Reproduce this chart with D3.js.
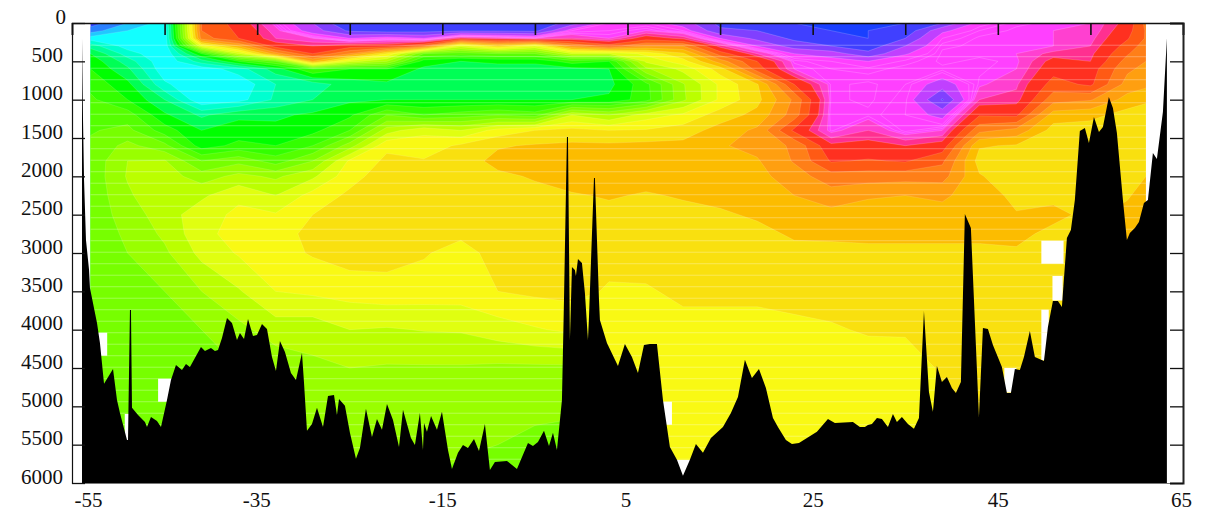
<!DOCTYPE html>
<html><head><meta charset="utf-8">
<script src="https://cdn.jsdelivr.net/npm/d3@7"></script>
<style>
html,body{margin:0;padding:0;background:#fff;overflow:hidden}
svg{display:block}
text{font-family:"Liberation Serif","Times New Roman",serif;font-size:21px;fill:#111}
</style></head><body><svg id="c" width="1207" height="515"></svg>
<script>
const lons=[-53,-49,-45,-41,-37,-33,-29,-25,-21,-17,-13,-9,-5,-1,3,7,11,15,19,23,27,31,35,39,43,47,51,55,59,61];
const depths=[0,100,200,300,400,500,600,800,1000,1200,1400,1600,1800,2000,2250,2500,2750,3000,3500,4000,4500,5000,5500,6000];
// one row per longitude, one value per depth
const field=[
[0.5,1.5,3.5,5.5,7,7.7,8,8.7,9.2,9.5,9.9,10.2,10.3,10.3,10.3,10.3,10.3,10.3,10.3,10.3,10.3,10.3,10.3,10.3],
[2,3,3.3,3.5,4.5,5.5,6.2,7.3,8,9.5,10.3,11.3,12,12.1,11.8,11.5,11.2,11,10.5,10.2,10.1,10.1,10.1,10.1],
[3.5,3.3,3.2,3.2,3.1,3.2,3.3,4.2,6,7.2,8.5,10.3,12.1,12.5,13,12.5,12.2,11.8,11,10.4,10.2,10.2,10.2,10.2],
[19,19,18.5,14,8,5.5,3.4,3,3.1,5.8,7,7.5,10,11.5,12.8,13.6,13.7,13.3,12,11,10.8,10.5,10.5,10.5],
[20.5,20.2,20,17,13,8,4.5,3.2,3.6,6.8,7.4,8.3,10.7,12.3,13.8,14.2,14.4,14.1,12.9,11.7,11,10.8,10.8,10.8],
[22.2,21.8,21.5,20.5,17.5,10,6.5,5,5.2,6.8,7.3,8,9.5,11.8,13,14.1,14.4,14.6,14,12.5,11.3,11,11,11],
[24,23.5,22,21,20,17,9,5.5,6,7.2,7.7,9,11,12.8,14.4,15,15.4,15.1,14.2,12.4,11.8,11.5,11.2,11],
[26,25.2,23,20.5,18,13.5,8,6.5,6.8,7.8,9,11.5,14.2,14.65,15.2,15.5,15.6,15.5,14.4,13,12,11.6,11.3,11],
[26,25.5,22.5,20.5,15,12,8,6.8,7,10,12.5,14.8,15.2,15.5,15.5,15.5,15.5,15.4,14.6,12.9,11.9,11.5,11.3,11],
[26,25.4,23,19,10,7.5,6.8,6.9,7,9,13.8,14.4,15.1,15.3,15.5,15.5,15.4,15.1,14.5,13.05,11.9,11.5,11.2,11],
[26,25.2,21,13.5,9.5,7,6.6,6.7,7,9.5,13,15.2,15.5,15.5,15.6,15.6,15.2,14.6,14.5,13.1,11.9,11.5,11.1,10.8],
[26,25.2,21.5,16,10,7.2,6.6,6.7,7,10,14.4,15.9,16.3,15.8,15.6,15.6,15.6,15.4,15,13.5,11.8,11.4,11,10.4],
[26,25.3,22,14,10,7.2,6.6,6.7,7,9.5,15,16.1,16.4,16.1,15.7,15.7,15.6,15.5,15.2,13.9,11.8,11.4,10.6,10.2],
[24.5,22.5,21.5,18,13,8.5,6.7,6.6,7,13,15.3,16.2,16.5,16.5,15.9,15.7,15.7,15.6,15.3,14.2,11.8,11.2,10.6,10.2],
[22.5,22.3,22,19.5,13,8,7,6.7,7.2,12,15,16.2,16.5,16.5,16.1,15.7,15.6,15.3,14.9,14.4,14.2,14.1,14.1,14.1],
[22.5,22,20.5,18,14.3,13.2,11.8,8.7,8.6,13.5,15.1,16.3,16.5,16.4,15.9,15.7,15.6,15.4,14.9,14.4,14.2,14.1,14.1,14.1],
[23.5,22.5,21.2,18,15.8,14.6,13.3,11.9,11.8,14.2,15.5,16.3,16.4,16.4,16.1,15.7,15.6,15.5,15.2,14.7,14.3,14.1,14.1,14.1],
[25.3,24.8,23,21.3,19.5,17.5,15.5,14.2,14.2,15.5,16.4,16.9,16.5,16.4,16.2,15.9,15.6,15.5,15.2,14.7,14.3,14.1,14.1,14.1],
[25.6,25,24.3,23,21.5,20,19.5,15.9,15.7,16.3,17.2,17.3,16.9,16.7,16.5,16.1,15.8,15.6,15.2,14.7,14.4,14.2,14.1,14.1],
[26,25.7,25.2,24.5,23,22.2,22,20,18.2,18.5,20.2,18.2,18.1,17.5,17,16.6,16.1,15.8,15.3,14.8,14.5,14.2,14.1,14.1],
[26,26,25.6,25,23.5,22.5,22.3,22.2,22.2,22.3,22.2,20.8,20.1,18.6,17.5,16.7,16.2,15.7,15.4,14.9,14.5,14.2,14.1,14.1],
[26,26,26,25.6,24.7,23,22.4,22.1,22.1,22.2,21.5,20.7,19.9,18.5,17.1,16.6,16.2,15.8,15.4,15.1,14.5,14.2,14.1,14.1],
[26,25.7,25,24,23.1,22.4,22.2,22.3,22.4,22.5,22.4,21,20.1,18.4,17,16.6,16.2,15.8,15.3,15.1,14.6,14.2,14.1,14.1],
[25,23.2,22.5,22.2,22.1,22.1,22.2,23.5,25.1,23.3,22,20.6,19.2,18.4,17.2,16.6,16.2,15.8,15.4,15.1,15.1,15.1,15.1,15.1],
[22.7,22.3,22.1,22.1,22.1,22.2,22.2,22.1,21.5,20.1,18.3,16.1,15.6,16.1,16.4,16.4,16.2,15.8,15.4,15.2,15.1,15.1,15.1,15.1],
[22.2,22.1,22.1,22,22,22.1,22,21.6,21.3,20.2,17.7,15.9,15.4,15.3,15.8,16.05,16.2,15.9,15.5,15.2,15.1,15.1,15.1,15.1],
[22.1,22,22,22,21.3,20.7,20.4,19.6,18.4,16.5,15.6,15.4,15.3,15.4,15.8,16.2,15.8,15.3,15.1,15.1,15.1,15.1,15.1,15.1],
[22,21.9,21.7,21.5,21.2,21,20.5,20.2,18.1,16.3,15.5,15.3,15.3,15.3,15.5,15.8,15.8,15.6,15.4,15.2,15.1,15.1,15.1,15.1],
[20.7,20.4,20.1,19.6,19.1,18.6,18.2,17.6,16.6,15.6,15.3,15.2,15.2,15.4,15.9,16.3,16.5,16.5,16.5,16.5,16.5,16.5,16.5,16.5],
[18.7,18.9,18.9,18.5,18.2,18,17.7,17.3,16.1,15.7,15.5,15.3,15.2,16,16.4,16.5,16.5,16.5,16.5,16.5,16.5,16.5,16.5,16.5]
];
const levels=[0,1,2,3,4,5,6,7,8,9,10,11,12,13,14,15,16,17,18,19,20,21,21.5,22,22.15,22.3,22.5,23,24,25,26];
const levelColors=["#3040ff","#2a80ff","#20c8ff","#12ffff","#00ffd0","#00ff99","#00ff55","#00ff00","#33ff00","#55ff00","#77ff00","#99ff00","#bbff00","#e0ff10","#f9f914","#f9e00f","#fcbc00","#ff9f10","#ff7f18","#ff5a14","#ff3020","#ff3090","#ff40d0","#ff40ff","#ff40ff","#ff40ff","#ff40ff","#c040ff","#8040ff","#4040ff","#1a40ff"];
// sea floor
const floorLon=[-53.92,-53.81,-53.7,-53.49,-53.16,-53.06,-52.3,-51.98,-51.54,-50.57,-50.14,-49.82,-49.06,-48.95,-48.74,-48.63,-48.52,-47.87,-47.12,-46.9,-46.47,-45.82,-45.39,-44.74,-44.31,-43.77,-43.12,-42.69,-42.26,-41.07,-40.64,-39.99,-39.56,-39.23,-38.8,-38.26,-37.72,-37.18,-36.86,-36.42,-35.99,-35.45,-35.02,-34.48,-33.94,-33.4,-32.97,-32.54,-32,-31.35,-30.81,-30.16,-29.94,-29.62,-29.08,-28.54,-27.89,-27.35,-26.7,-26.38,-26.16,-25.52,-24.98,-24.33,-23.9,-23.25,-22.6,-22.06,-21.52,-20.98,-20.33,-19.68,-19.25,-18.39,-17.96,-17.42,-17.09,-16.98,-16.66,-16.22,-15.58,-15.04,-14.39,-13.96,-13.31,-12.77,-12.23,-11.58,-11.04,-10.4,-9.86,-9.32,-8.02,-6.94,-5.75,-5.21,-4.67,-4.02,-3.48,-3.05,-2.62,-2.08,-1.86,-1.54,-1.43,-1.22,-1,-0.68,-0.57,-0.35,0.08,0.4,0.73,0.84,1.38,1.48,1.92,2.02,2.78,3.97,4.72,5.48,6.13,6.78,7.42,8.18,8.83,9.58,10.34,10.99,11.74,12.39,13.15,14.01,15.31,16.17,16.93,17.68,18.44,19.2,19.95,20.71,21.25,22.11,22.76,23.52,25.46,26.65,27.4,29.35,30.1,30.64,30.97,31.4,31.94,32.48,33.13,33.67,34.1,34.64,35.29,35.94,36.48,37.02,37.56,37.99,38.42,38.96,39.5,40.04,40.47,41.01,41.44,42.09,42.96,43.39,43.93,44.47,45.44,45.98,46.41,46.84,47.38,47.82,48.46,49,49.98,50.41,50.95,51.49,51.92,52.46,52.89,53.32,53.86,54.4,54.84,55.38,55.92,56.35,56.99,57.43,57.86,58.51,58.94,59.26,59.8,60.24,60.78,61.21,61.75,62.18,62.83,63.26];
const floorDepth=[200,1265,2047,2830,3220,3456,3912,4173,4707,4512,4916,5086,5438,5438,3742,3742,5020,5112,5203,5268,5138,5190,5268,4916,4655,4460,4525,4447,4486,4225,4277,4238,4277,4264,4108,3847,3912,4134,4042,4121,3860,4082,4069,3925,3990,4355,4538,4147,4290,4564,4655,4303,4694,5320,5229,5020,5268,4864,4851,5112,4903,4994,5346,5685,5542,5033,5399,5164,5307,4968,5177,5529,5046,5412,5503,5086,5568,5216,5333,5125,5307,5072,5568,5816,5607,5503,5542,5425,5581,5229,5829,5725,5712,5816,5477,5516,5464,5320,5516,5346,5568,4916,3612,1487,1487,4134,3182,3221,3299,3077,3130,3521,4134,3834,2021,2021,3612,3873,4173,4473,4186,4355,4564,4199,4186,4186,4916,5529,5698,5907,5698,5490,5607,5412,5268,5086,4877,4394,4629,4512,4760,5151,5268,5438,5490,5477,5333,5164,5216,5203,5268,5268,5242,5229,5151,5164,5268,5099,5203,5138,5229,5294,5151,3756,4812,5072,4473,4681,4616,4760,4825,4681,2491,2673,5138,3977,3990,4199,4486,4825,4825,4512,4525,4355,4016,4355,4408,3964,3625,3625,3703,2804,2699,2308,1408,1369,1565,1226,1421,1356,965,1108,1434,2308,2830,2738,2673,2595,2347,2308,1695,1773,1161,196];
// cells with no data: lon from, lon to, depth from, depth to
const gapLon0=[-52.4,-45.7,-49.3,8.7,10.3,45.7,49.7,50.9,49.7,50.9];
const gapLon1=[-51.2,-44.1,-48.6,9.8,11.8,47,52.1,52,50.5,49.7];
const gapDepth0=[4040,4640,5100,4940,5700,4500,2840,3300,3740,4040];
const gapDepth1=[4340,4940,5440,5240,5920,4820,3140,3620,4040,4400];
const lonTicks=[-55,-45,-35,-25,-15,-5,5,15,25,35,45,55,65];
const lonLabels=[-55,-35,-15,5,25,45,65];
const depthTicks=[0,500,1000,1500,2000,2500,3000,3500,4000,4500,5000,5500,6000];
const rowLines=[290,440,590,740,890,1040,1190,1340,1490,1640,1790,1940,2090,2240,2390,2540,2690,2840,2990,3140,3290,3440,3590,3740,3890,4040,4190,4340,4490,4640,4790,4940,5090,5240,5390,5540,5690,5840];

const plotL=72,plotR=1183,plotT=23,plotB=483;
const svg=d3.select("#c");
const x=d3.scaleLinear().domain([-55,65]).range([plotL,plotR]);
const y=d3.scaleLinear().domain([0,6000]).range([plotT,plotB]);

const n=lons.length,m=depths.length;
const flat=new Array(n*m);
field.forEach((col,i)=>col.forEach((v,j)=>{flat[i+j*n]=v;}));
const gx=d3.scaleLinear().domain(lons.map((_,i)=>i+0.5)).range(lons.map(x)).clamp(true);
const gy=d3.scaleLinear().domain(depths.map((_,j)=>j+0.5)).range(depths.map(y)).clamp(true);
const path=d3.geoPath(d3.geoTransform({point(a,b){this.stream.point(gx(a),gy(b));}}));
const contours=d3.contours().size([n,m]).thresholds(levels)(flat);
svg.append("g").selectAll("path").data(contours).join("path")
  .attr("d",path)
  .attr("fill",(d,i)=>levelColors[i])
  .attr("stroke","#fff").attr("stroke-opacity",(d,i)=>levels[i]>=21?0.3:0.22).attr("stroke-width",0.6);

svg.append("g").selectAll("line").data(rowLines).join("line")
  .attr("x1",x(lons[0])).attr("x2",x(lons[n-1]))
  .attr("y1",d=>y(d)).attr("y2",d=>y(d))
  .attr("stroke","#fff").attr("stroke-opacity",0.3).attr("stroke-width",1);

svg.append("g").selectAll("rect").data(gapLon0).join("rect")
  .attr("x",(d,i)=>Math.min(x(d),x(gapLon1[i]))).attr("width",(d,i)=>Math.abs(x(gapLon1[i])-x(d)))
  .attr("y",(d,i)=>y(gapDepth0[i])).attr("height",(d,i)=>y(gapDepth1[i])-y(gapDepth0[i]))
  .attr("fill","#fff");

const area=d3.area().x((d,i)=>x(floorLon[i])).y0(y(6000)).y1((d,i)=>y(d));
svg.append("path").attr("d",area(floorDepth)).attr("fill","#000");

// axes
const axTop=d3.axisTop(x).tickValues(lonTicks).tickSize(-12).tickFormat("");
const gt=svg.append("g").attr("transform",`translate(0,${plotT})`).call(axTop);
gt.selectAll("line").attr("stroke","#111").attr("stroke-width",1.6);
gt.select(".domain").attr("stroke","#111").attr("stroke-width",1.5);
const axBottom=d3.axisBottom(x).tickValues(lonLabels).tickSize(0).tickFormat(d=>d);
const gb=svg.append("g").attr("transform",`translate(0,${plotB})`).call(axBottom);
gb.attr("font-family",null).attr("font-size",null);
gb.select(".domain").attr("stroke","#777").attr("stroke-width",1.2);
gb.selectAll("text").attr("dy",null)
  .attr("y",24).attr("text-anchor","middle")
  .attr("x",d=>d===-55?16:d===65?-2:d===-35?-1:d===5?-2:0);
const axLeft=d3.axisLeft(y).tickValues(depthTicks).tickSize(-13).tickPadding(0).tickFormat(d=>d);
const gl=svg.append("g").attr("transform",`translate(${plotL},0)`).call(axLeft);
gl.attr("font-family",null).attr("font-size",null);
gl.select(".domain").attr("stroke","#111").attr("stroke-width",1.2);
gl.selectAll("line").attr("stroke","#111").attr("stroke-width",1.3);
gl.selectAll("text").attr("dy",null).attr("x",d=>d===0?-6:-9).attr("y",0).attr("text-anchor","end");
const axRight=d3.axisRight(y).tickValues(depthTicks).tickSize(-13).tickFormat("");
const gr=svg.append("g").attr("transform",`translate(${plotR},0)`).call(axRight);
gr.select(".domain").attr("stroke","#222").attr("stroke-width",2);
gr.selectAll("line").attr("stroke","#111").attr("stroke-width",1.3);
</script></body></html>
